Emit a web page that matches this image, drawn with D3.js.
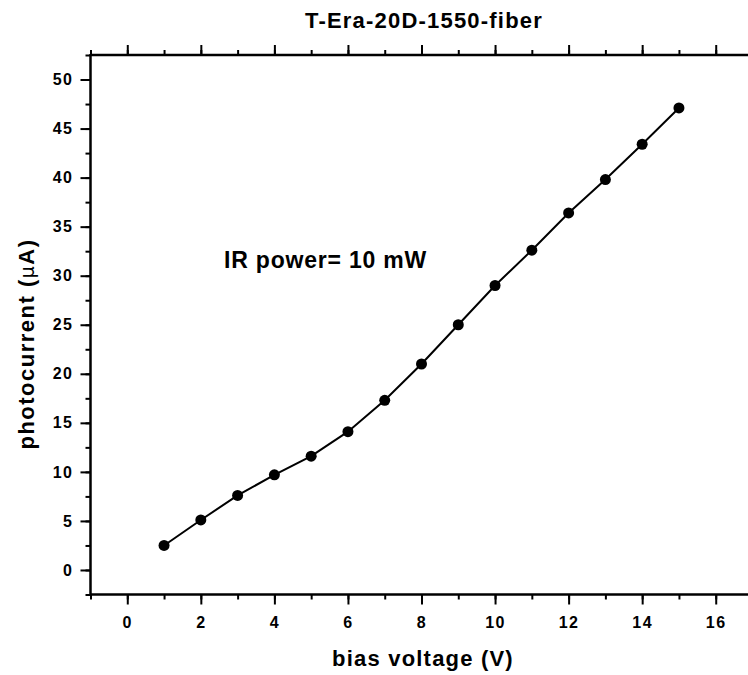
<!DOCTYPE html>
<html><head><meta charset="utf-8">
<script src="https://cdn.jsdelivr.net/npm/d3@7"></script>
<style>body{margin:0;background:#fff;}svg{display:block;}text{font-family:"Liberation Sans",Arial,sans-serif;font-weight:bold;}</style>
</head><body>
<script>
const biasV = [1,2,3,4,5,6,7,8,9,10,11,12,13,14,15];
const current = [2.5,5.1,7.6,9.7,11.6,14.1,17.3,21.0,25.0,29.0,32.6,36.4,39.8,43.4,47.1];
const xTicks = [0,2,4,6,8,10,12,14,16];
const yTicks = [0,5,10,15,20,25,30,35,40,45,50];
const title = "T-Era-20D-1550-fiber";
const xLabel = "bias voltage (V)";
const note = "IR power= 10 mW";

const W=748,H=675;
const svg=d3.select("body").append("svg").attr("width",W).attr("height",H);
const L=90.5,R=752.5,T=55,B=594.5;
const x=d3.scaleLinear().domain([-1,17]).range([L,R]);
const y=d3.scaleLinear().domain([-2.5,52.5]).range([B,T]);

const minorX=d3.range(-1,17.01,1);
const minorY=d3.range(-2.5,52.6,2.5);
const g=svg.append("g");
function styleAxis(a){a.select(".domain").remove();a.selectAll("line").attr("stroke","#000").attr("stroke-width",2);}
function styleText(a){a.selectAll("text").attr("font-size",16).attr("fill","#000").attr("font-weight","bold").attr("letter-spacing",1.5);}
g.append("g").attr("transform",`translate(0,${B})`).call(d3.axisBottom(x).tickValues(minorX).tickSize(5).tickFormat("")).call(styleAxis);
g.append("g").attr("transform",`translate(0,${B})`).call(d3.axisBottom(x).tickValues(xTicks).tickSize(10).tickPadding(12).tickFormat(d3.format("d"))).call(styleAxis).call(styleText);
g.append("g").attr("transform",`translate(0,${T})`).call(d3.axisTop(x).tickValues(minorX).tickSize(5).tickFormat("")).call(styleAxis);
g.append("g").attr("transform",`translate(0,${T})`).call(d3.axisTop(x).tickValues(xTicks).tickSize(10).tickFormat("")).call(styleAxis);
g.append("g").attr("transform",`translate(${L},0)`).call(d3.axisLeft(y).tickValues(minorY).tickSize(5).tickFormat("")).call(styleAxis);
g.append("g").attr("transform",`translate(${L},0)`).call(d3.axisLeft(y).tickValues(yTicks).tickSize(10).tickPadding(7).tickFormat(d3.format("d"))).call(styleAxis).call(styleText);

svg.append("line").attr("x1",L).attr("x2",R).attr("y1",B).attr("y2",B).attr("stroke","#000").attr("stroke-width",2.5);
svg.append("line").attr("x1",L).attr("x2",R).attr("y1",T).attr("y2",T).attr("stroke","#000").attr("stroke-width",2.5);
svg.append("line").attr("x1",L).attr("x2",L).attr("y1",T-1).attr("y2",B+1).attr("stroke","#000").attr("stroke-width",2.5);

const pts=biasV.map((v,i)=>[v,current[i]]);
svg.append("path").datum(pts).attr("fill","none").attr("stroke","#000").attr("stroke-width",2)
  .attr("d",d3.line().x(d=>x(d[0])).y(d=>y(d[1])));
svg.selectAll("circle.pt").data(pts).enter().append("circle").attr("class","pt")
  .attr("cx",d=>x(d[0])).attr("cy",d=>y(d[1])).attr("r",5.5).attr("fill","#000");

svg.append("text").attr("x",424).attr("y",28).attr("text-anchor","middle").attr("font-size",22).attr("letter-spacing",1.2).text(title);
svg.append("text").attr("x",423).attr("y",666).attr("text-anchor","middle").attr("font-size",22).attr("letter-spacing",1.2).text(xLabel);
const yl=svg.append("text").attr("transform","translate(34,344) rotate(-90)").attr("text-anchor","middle").attr("font-size",22).attr("letter-spacing",1.5);
yl.append("tspan").text("photocurrent (");
yl.append("tspan").attr("font-family","'DejaVu Sans',sans-serif").attr("font-weight","normal").attr("font-size",19).text("μ");
yl.append("tspan").text("A)");
svg.append("text").attr("x",224).attr("y",268).attr("font-size",23).attr("letter-spacing",0.8).text(note);
</script>
</body></html>
